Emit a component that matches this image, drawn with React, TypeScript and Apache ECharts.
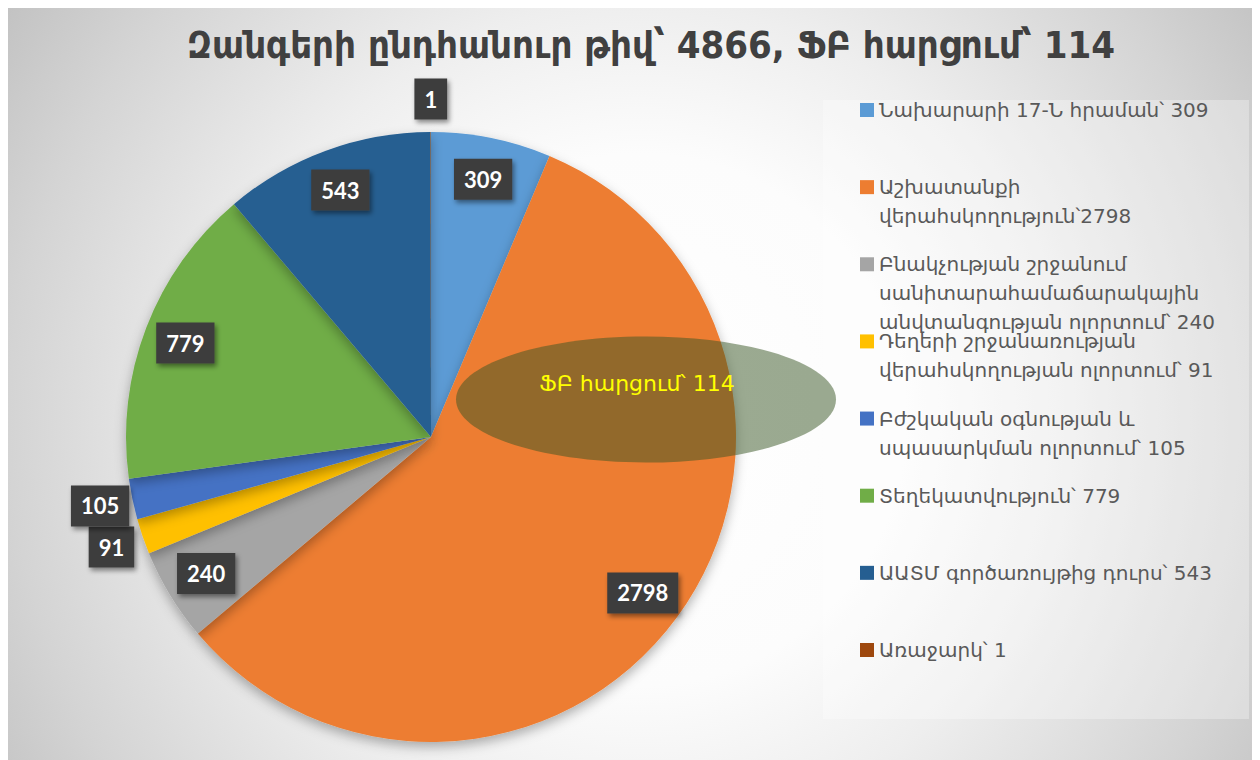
import React, { useEffect, useRef } from "react";
import * as echarts from "echarts";

const categories: string[] = [
  "Նախարարի 17-Ն հրաման",
  "Աշխատանքի վերահսկողություն",
  "Բնակչության շրջանում սանիտարահամաճարակային անվտանգության ոլորտում",
  "Դեղերի շրջանառության վերահսկողության ոլորտում",
  "Բժշկական օգնության և սպասարկման ոլորտում",
  "Տեղեկատվություն",
  "ԱԱՏՄ գործառույթից դուրս",
  "Առաջարկ",
];
const values: number[] = [309, 2798, 240, 91, 105, 779, 543, 1];
const colors: string[] = ["#5B9BD5", "#ED7D31", "#A5A5A5", "#FFC000", "#4472C4", "#70AD47", "#255E91", "#9E480E"];
const legendLabels: string[] = [
  "Նախարարի 17-Ն հրաման՝ 309",
  "Աշխատանքի\nվերահսկողություն՝2798",
  "Բնակչության շրջանում\nսանիտարահամաճարակային\nանվտանգության ոլորտում՝ 240",
  "Դեղերի շրջանառության\nվերահսկողության ոլորտում՝ 91",
  "Բժշկական օգնության և\nսպասարկման ոլորտում՝ 105",
  "Տեղեկատվություն՝ 779",
  "ԱԱՏՄ գործառույթից դուրս՝ 543",
  "Առաջարկ՝ 1",
];
const outsideLabelIdx: number[] = [3, 4, 7];
const titleText = "Զանգերի ընդհանուր թիվ՝ 4866, ՖԲ հարցում՝ 114";
const calloutText = "ՖԲ հարցում՝ 114";

const W = 1252;
const H = 752;

export default function App() {
  const ref = useRef<HTMLDivElement>(null);
  useEffect(() => {
    document.documentElement.style.overflow = "hidden";
    document.body.style.overflow = "hidden";
    const chart = echarts.init(ref.current!, undefined, { renderer: "svg" });
    const cx = 423, cy = 429, R = 305;
    const lineH = 29;
    const legends = categories.map((name, i) => {
      const n = legendLabels[i].split("\n").length;
      const centerY = 102 + i * 77.14;
      const total = (2 * n - 1) * lineH;
      return {
        data: [name],
        orient: "vertical",
        left: 852,
        top: centerY - total / 2,
        padding: 0,
        itemWidth: 14,
        itemHeight: 14,
        icon: "rect",
        selectedMode: false,
        formatter: () => "\n".repeat(n - 1) + legendLabels[i],
        textStyle: { color: "#595959", fontSize: 20, lineHeight: lineH, fontFamily: "DejaVu Sans" },
      };
    });
    const labelStyle = {
      color: "#FFFFFF",
      fontFamily: "Lato",
      fontWeight: "bold",
      fontSize: 22,
      lineHeight: 26,
      backgroundColor: "#3D3D3D",
      padding: [8, 10, 7, 10],
      shadowColor: "rgba(0,0,0,0.45)",
      shadowBlur: 5,
      shadowOffsetX: 2,
      shadowOffsetY: 3,
      formatter: "{c}",
    };
    chart.setOption({
      animation: false,
      legend: legends,
      graphic: [
        {
          type: "rect",
          x: 0,
          y: 0,
          z: -100,
          silent: true,
          shape: { x: 0, y: 0, width: W, height: H },
          style: {
            fill: {
              type: "radial",
              x: 632,
              y: 412,
              r: 760,
              global: true,
              colorStops: [
                { offset: 0, color: "#FFFFFF" },
                { offset: 0.35, color: "#FCFCFC" },
                { offset: 0.55, color: "#EEEEEE" },
                { offset: 0.83, color: "#D4D4D4" },
                { offset: 1, color: "#C2C2C2" },
              ],
            },
          },
        },
        {
          type: "rect",
          z: -90,
          silent: true,
          shape: { x: 815, y: 92, width: 426, height: 619 },
          style: { fill: "rgba(255,255,255,0.3)" },
        },
        {
          type: "text",
          z: 10,
          x: 643,
          y: 37,
          style: {
            text: titleText,
            fill: "#404040",
            font: 'bold 38px "DejaVu Sans Condensed", "DejaVu Sans"',
            textAlign: "center",
            textVerticalAlign: "middle",
            align: "center",
            verticalAlign: "middle",
          },
        },
        {
          type: "ellipse",
          z: 100,
          silent: true,
          shape: { cx: 638, cy: 391.5, rx: 190, ry: 63 },
          style: { fill: "rgba(55,86,35,0.5)" },
        },
        {
          type: "text",
          z: 101,
          x: 629,
          y: 375,
          style: {
            text: calloutText,
            fill: "#FFFF00",
            font: '22px "DejaVu Sans"',
            textAlign: "center",
            textVerticalAlign: "middle",
            align: "center",
            verticalAlign: "middle",
          },
        },
      ],
      series: [
        {
          type: "pie",
          name: "main",
          center: [cx, cy],
          radius: R,
          startAngle: 90,
          clockwise: true,
          silent: true,
          z: 2,
          data: categories.map((name, i) => ({ name, value: values[i], itemStyle: { color: colors[i] } })),
          label: { show: false },
          labelLine: { show: false },
          itemStyle: {
            shadowBlur: 12,
            shadowColor: "rgba(0,0,0,0.3)",
            shadowOffsetY: 5,
          },
        },
        {
          type: "pie",
          center: [cx, cy],
          radius: [215, R],
          startAngle: 90,
          clockwise: true,
          silent: true,
          z: 3,
          data: values.map((v, i) => ({ value: v, label: { show: !outsideLabelIdx.includes(i) } })),
          itemStyle: { color: "rgba(0,0,0,0)" },
          label: { position: "inside", ...labelStyle },
          labelLine: { show: false },
        },
        {
          type: "pie",
          center: [cx, cy],
          radius: [314, 356],
          startAngle: 90,
          clockwise: true,
          silent: true,
          z: 3,
          data: values.map((v, i) => ({ value: v, label: { show: outsideLabelIdx.includes(i) } })),
          itemStyle: { color: "rgba(0,0,0,0)" },
          label: { position: "inside", ...labelStyle },
          labelLine: { show: false },
        },
      ],
    });
    return () => chart.dispose();
  }, []);
  return <div ref={ref} style={{ width: W, height: H }} />;
}
